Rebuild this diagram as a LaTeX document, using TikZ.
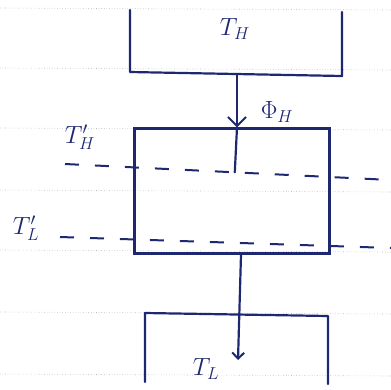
\documentclass[tikz,border=0pt]{standalone}
\usepackage{tikz}
\usetikzlibrary{arrows.meta,calc}
\definecolor{ink}{HTML}{1E2870}
\definecolor{ruling}{HTML}{B4B8C0}
\tikzset{
  wall/.style={draw=ink,line width=2.2pt,line join=round,line cap=round},
  tank/.style={draw=ink,line width=2.2pt,minimum width=195pt,minimum height=125pt,inner sep=0pt},
  flow/.style={draw=ink,line width=2.2pt,-{Straight Barb[length=#1,width=2*#1,line width=2pt]}},
  flow/.default=8pt,
  level/.style={draw=ink,line width=2pt,dash pattern=on 14pt off 16pt},
  paperline/.style={draw=ruling,line width=0.6pt,dotted},
  tlabel/.style={text=ink,font=\fontsize{27}{30}\selectfont,inner sep=0pt},
}

\begin{document}
\begin{tikzpicture}[x=1pt,y=-1pt]
  \useasboundingbox (0,0) rectangle (391,389);
  % ruled paper
  \foreach \yy in {8,68,128,190,250,312,374}
    \draw[paperline] (0,\yy) -- (391,\yy+2);
  % hot reservoir (open at the top)
  \draw[wall] (130,10) -- (130,72) -- (342,76) -- (342,12);
  \node[tlabel] (hot) at (235,29) {$T_H$};
  \coordinate (hotout) at (237,74);
  % engine block
  \node[tank] (eng) at (232,191) {};
  \coordinate (thleft) at (65,164);
  \coordinate (thright) at (391,180);
  \coordinate (tlleft) at (60,237);
  \coordinate (tlright) at (391,248);
  \draw[level] (thleft) -- (thright);
  \draw[level] (tlleft) -- (tlright);
  \node[tlabel] (thp) at (80,137) {$T'_H$};
  \node[tlabel] (tlp) at (26,228) {$T'_L$};
  % cold reservoir (open at the bottom)
  \draw[wall] (145,382) -- (145,313) -- (328,316) -- (328,384);
  \node[tlabel] (cold) at (206,369) {$T_L$};
  \coordinate (coldin) at (238,360);
  % heat flows
  \draw[flow=9pt] (hotout) -- (hotout |- eng.north);
  \draw[wall] (hotout |- eng.north) -- ($(thleft)!(hotout |- eng.north)!(thright)$);
  \node[tlabel] (qh) at (277,112) {$\Phi_H$};
  \draw[flow=6pt] ($(eng.south)+(9,0)$) -- (coldin);
\end{tikzpicture}
\end{document}
